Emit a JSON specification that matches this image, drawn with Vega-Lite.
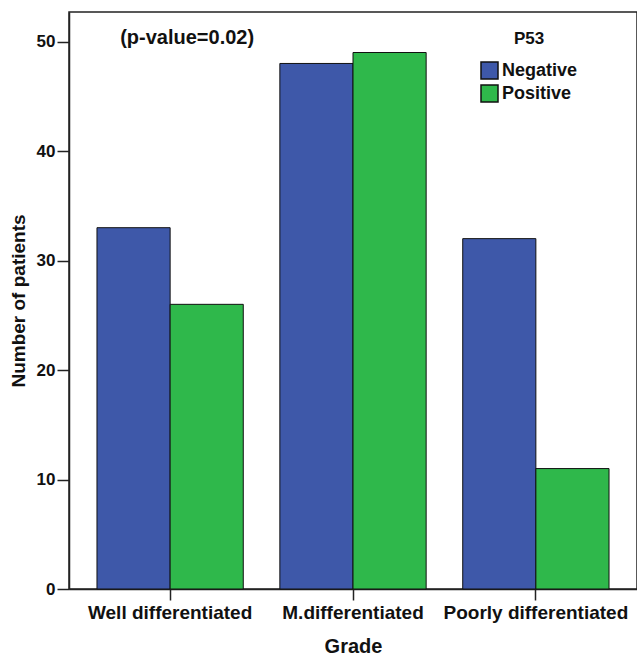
{
  "$schema": "https://vega.github.io/schema/vega-lite/v6.json",
  "autosize": "none",
  "padding": {"left": 69, "top": 12, "right": 0, "bottom": 66},
  "width": 568,
  "height": 577,
  "background": "white",
  "config": {
    "font": "Liberation Sans",
    "view": {"stroke": "#222", "strokeWidth": 1.5}
  },
  "data": {
    "values": [
      {"Grade": "Well differentiated", "P53": "Negative", "count": 33},
      {"Grade": "Well differentiated", "P53": "Positive", "count": 26},
      {"Grade": "M.differentiated", "P53": "Negative", "count": 48},
      {"Grade": "M.differentiated", "P53": "Positive", "count": 49},
      {"Grade": "Poorly differentiated", "P53": "Negative", "count": 32},
      {"Grade": "Poorly differentiated", "P53": "Positive", "count": 11}
    ]
  },
  "layer": [
    {
      "mark": {"type": "bar", "stroke": "#111", "strokeWidth": 1},
      "encoding": {
        "x": {
          "field": "Grade",
          "type": "nominal",
          "sort": ["Well differentiated", "M.differentiated", "Poorly differentiated"],
          "scale": {"paddingInner": 0.2, "paddingOuter": 0.153},
          "axis": {
            "title": "Grade",
            "labelAngle": 0,
            "labelFont": "Liberation Sans",
            "labelFontWeight": "bold",
            "labelFontSize": 19,
            "labelColor": "#111",
            "labelPadding": 3,
            "labelLimit": 400,
            "labelOverlap": false,
            "tickSize": 11,
            "tickColor": "#222",
            "tickWidth": 1.5,
            "domainColor": "#222",
            "domainWidth": 1.5,
            "titleFontSize": 20,
            "titleFontWeight": "bold",
            "titleColor": "#111",
            "titlePadding": 14
          }
        },
        "xOffset": {
          "field": "P53",
          "type": "nominal",
          "scale": {"paddingInner": 0, "paddingOuter": 0}
        },
        "y": {
          "field": "count",
          "type": "quantitative",
          "scale": {"domain": [0, 52.7], "nice": false},
          "axis": {
            "title": "Number of patients",
            "values": [0, 10, 20, 30, 40, 50],
            "grid": false,
            "labelFontWeight": "bold",
            "labelFontSize": 17,
            "labelColor": "#111",
            "labelPadding": 2,
            "tickSize": 12,
            "tickColor": "#222",
            "tickWidth": 1.5,
            "domainColor": "#222",
            "domainWidth": 1.5,
            "titleFontSize": 19,
            "titleFontWeight": "bold",
            "titleColor": "#111",
            "titlePadding": 8
          }
        },
        "color": {
          "field": "P53",
          "type": "nominal",
          "scale": {"domain": ["Negative", "Positive"], "range": ["#3E58A9", "#2FB84B"]},
          "legend": {
            "title": "P53",
            "orient": "none",
            "legendX": 411,
            "legendY": 19,
            "titleAnchor": "middle",
            "titleFontSize": 17,
            "titleFontWeight": "bold",
            "titleColor": "#111",
            "titlePadding": 13,
            "labelFontSize": 18,
            "labelFontWeight": "bold",
            "labelColor": "#111",
            "labelOffset": 3,
            "symbolType": "square",
            "symbolSize": 289,
            "symbolStrokeColor": "#111",
            "symbolStrokeWidth": 1.5,
            "symbolOpacity": 1,
            "rowPadding": 0
          }
        }
      }
    },
    {
      "data": {"values": [{"label": "(p-value=0.02)"}]},
      "mark": {"type": "text", "fontSize": 20, "fontWeight": "bold", "color": "#111", "dx": 17, "baseline": "middle"},
      "encoding": {
        "text": {"field": "label"},
        "x": {"datum": "Well differentiated"},
        "y": {"datum": 50.3}
      }
    }
  ]
}
